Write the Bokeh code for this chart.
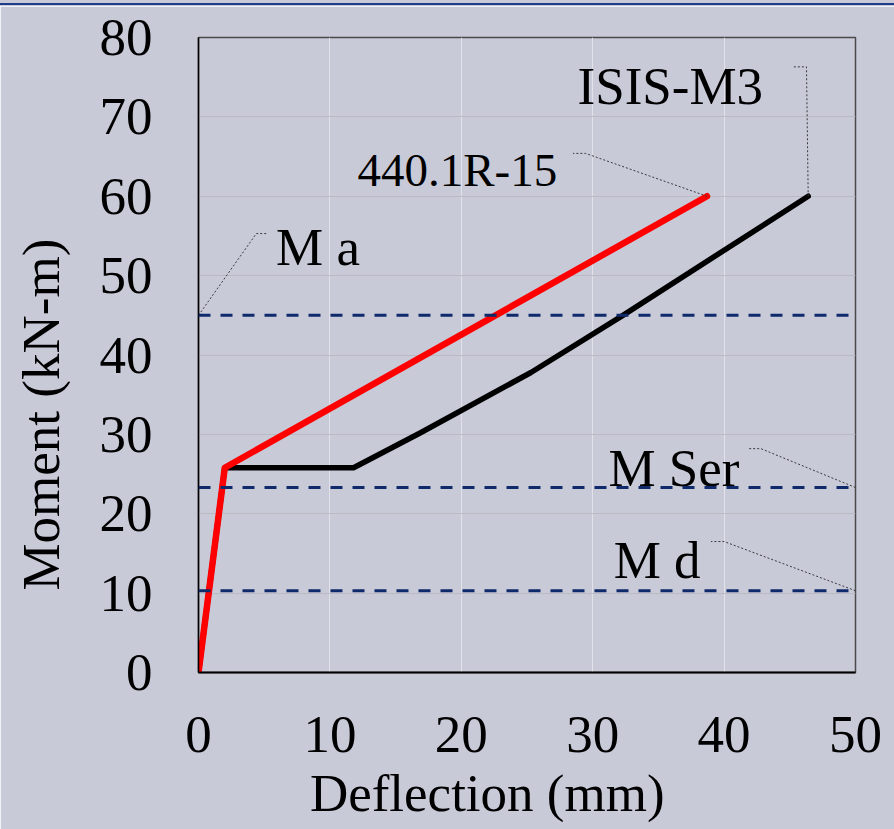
from bokeh.core.properties import value
from bokeh.embed import file_html
from bokeh.layouts import column
from bokeh.models import Div, FixedTicker, Range1d, Span
from bokeh.plotting import figure
from bokeh.resources import INLINE

# Moment-deflection predictions (deflection in mm, moment in kN-m)
isis_defl = [0.0, 2.0, 11.8, 16.9, 25.3, 32.3, 46.4]
isis_moment = [0.0, 25.8, 25.8, 30.2, 37.8, 45.0, 60.0]

aci_defl = [0.0, 2.0, 38.7]
aci_moment = [0.0, 25.8, 60.0]

# Reference moment levels
moment_levels = {"M a": 45.0, "M Ser": 23.3, "M d": 10.3}

x_ticks = [0, 10, 20, 30, 40, 50]
y_ticks = [0, 10, 20, 30, 40, 50, 60, 70, 80]

BG = "#c8cad8"
SERIF = "Liberation Serif"
FS = "53px"
NBSP = "\u00a0"

p = figure(
    width=894, height=823,
    x_range=Range1d(0, 50), y_range=Range1d(0, 80),
    output_backend="svg", toolbar_location=None, title=None,
    min_border_left=198, min_border_right=39,
    min_border_top=31, min_border_bottom=157,
    background_fill_color=BG, border_fill_color=BG,
)
p.outline_line_color = "#4a4a4a"
p.outline_line_width = 1.5

# grid
p.xgrid.ticker = FixedTicker(ticks=x_ticks)
p.ygrid.ticker = FixedTicker(ticks=y_ticks)
p.xgrid.grid_line_color = "#e1e2ea"
p.ygrid.grid_line_color = "#bbbac3"
p.xgrid.grid_line_width = 1
p.ygrid.grid_line_width = 1

# axes
for ax in (p.xaxis[0], p.yaxis[0]):
    ax.major_tick_in = 0
    ax.major_tick_out = 0
    ax.minor_tick_in = 0
    ax.minor_tick_out = 0
    ax.axis_line_color = "black"
    ax.major_label_text_font = SERIF
    ax.major_label_text_font_size = FS
    ax.major_label_text_color = "black"
    ax.axis_label_text_font = SERIF
    ax.axis_label_text_font_size = FS
    ax.axis_label_text_font_style = "normal"
    ax.axis_label_text_color = "black"
p.xaxis.ticker = FixedTicker(ticks=x_ticks)
p.yaxis.ticker = FixedTicker(ticks=y_ticks)
p.xaxis.axis_line_width = 2
p.yaxis.axis_line_width = 1.5
p.xaxis.major_label_standoff = 44
p.yaxis.major_label_standoff = 46

# axis titles, padded so they sit a little off the frame centre
p.xaxis.axis_label = "Deflection (mm)" + NBSP * 6
p.yaxis.axis_label = "Moment (kN-m)" + NBSP * 9
p.xaxis.axis_label_standoff = 9
p.yaxis.axis_label_standoff = 27

# horizontal dashed moment levels
for lvl in moment_levels.values():
    p.add_layout(Span(location=lvl, dimension="width", line_color="#0e2a6b",
                      line_width=3, line_dash="12 10"))

# curves
p.line(isis_defl, isis_moment, line_color="black", line_width=5.5,
       line_join="round", line_cap="round")
p.line(aci_defl, aci_moment, line_color="#ff0000", line_width=6.5,
       line_join="round", line_cap="round")

# callouts: (text, anchor x, anchor y, elbow x, elbow y, tail x, text x, baseline y, size)
callouts = [
    ("M a", 0.0, moment_levels["M a"], 4.4, 55.3, 5.25, 5.9, 53.6, FS),
    ("440.1R-15", aci_defl[-1], aci_moment[-1], 29.45, 65.4, 28.5, 12.1, 63.3, "47px"),
    ("ISIS-M3", isis_defl[-1], isis_moment[-1], 46.27, 76.3, 45.3, 28.85, 73.9, FS),
    ("M Ser", 50.0, moment_levels["M Ser"], 42.8, 28.2, 41.9, 31.2, 25.8, FS),
    ("M d", 50.0, moment_levels["M d"], 40.0, 16.5, 39.0, 31.6, 14.2, FS),
]
for text, ax_, ay, ex, ey, tx, lx, ly, size in callouts:
    p.line([ax_, ex, tx], [ay, ey, ey], line_color="#3a3a3a", line_width=1,
           line_dash="2 2")
    p.text(x=[lx], y=[ly], text=[text], text_font=value(SERIF),
           text_font_size=size, text_color="black",
           text_align="left", text_baseline="alphabetic")

top_rule = Div(
    width=894, height=6, margin=0,
    styles={"background": f"linear-gradient(to bottom, {BG} 0px, {BG} 3px, "
                          f"#1d3c8c 3px, #1d3c8c 5px, {BG} 5px)"},
)

layout = column(top_rule, p, spacing=0, margin=0)

with open("out.html", "w") as f:
    f.write(file_html(layout, INLINE))
